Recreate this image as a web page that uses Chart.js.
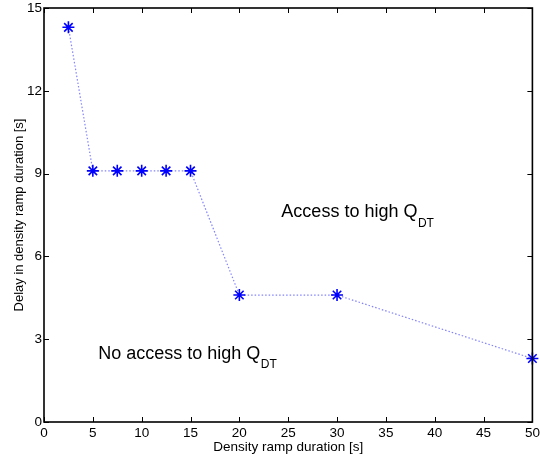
<!DOCTYPE html>
<html>
<head>
<meta charset="utf-8">
<script src="https://cdn.jsdelivr.net/npm/chart.js@4"></script>
<style>
  html, body { margin: 0; padding: 0; background: #fff; }
  #wrap { width: 540px; height: 457px; }
</style>
</head>
<body>
<div id="wrap"><canvas id="delay_chart"></canvas></div>
<script>
/*_____________________DATA____________________*/

const rampDuration = [2.5, 5, 7.5, 10, 12.5, 15, 20, 30, 50];
const rampDelay = [14.3, 9.1, 9.1, 9.1, 9.1, 9.1, 4.6, 4.6, 2.3];

const xTickValues = [0, 5, 10, 15, 20, 25, 30, 35, 40, 45, 50];
const yTickValues = [0, 3, 6, 9, 12, 15];

// region captions, placed in data units (x, baseline y)
const regionText = ['Access to high Q', 'No access to high Q'];
const regionSub = ['DT', 'DT'];
const regionX = [24.3, 5.55];
const regionY = [7.42, 2.3];

const FONT = "'Liberation Sans', Arial, Helvetica, sans-serif";

/*_____________________BOX + INSIDE TICKS____________________*/

const boxTicks = {
  id: 'boxTicks',
  afterDatasetsDraw(chart) {
    const {ctx, chartArea: a, scales: {x, y}} = chart;
    const len = 5;
    ctx.save();
    ctx.strokeStyle = '#000';
    ctx.lineWidth = 1;
    ctx.beginPath();
    xTickValues.forEach(v => {
      const px = Math.round(x.getPixelForValue(v)) + 0.5;
      ctx.moveTo(px, a.bottom); ctx.lineTo(px, a.bottom - len);
      ctx.moveTo(px, a.top); ctx.lineTo(px, a.top + len);
    });
    yTickValues.forEach(v => {
      const py = Math.round(y.getPixelForValue(v)) + 0.5;
      ctx.moveTo(a.left, py); ctx.lineTo(a.left + len, py);
      ctx.moveTo(a.right, py); ctx.lineTo(a.right - len, py);
    });
    ctx.stroke();
    ctx.lineWidth = 1.6;
    ctx.strokeRect(a.left, a.top, a.right - a.left, a.bottom - a.top);

    // captions with subscript
    ctx.fillStyle = '#000';
    ctx.textBaseline = 'alphabetic';
    ctx.textAlign = 'left';
    regionText.forEach((t, i) => {
      const px = x.getPixelForValue(regionX[i]);
      const py = y.getPixelForValue(regionY[i]);
      ctx.font = '18px ' + FONT;
      ctx.fillText(t, px, py);
      const w = ctx.measureText(t).width;
      ctx.font = '12px ' + FONT;
      ctx.fillText(regionSub[i], px + w + 0.5, py + 9.5);
    });
    ctx.restore();
  }
};

/*_____________________CHART____________________*/

const delay_chart = document.getElementById('delay_chart');
new Chart(delay_chart, {
  type: 'scatter',
  data: {
    datasets: [{
      label: 'Delay',
      data: rampDuration.map((d, i) => ({x: d, y: rampDelay[i]})),
      showLine: true,
      borderColor: 'rgba(90, 90, 255, 0.75)',
      borderWidth: 1.2,
      borderDash: [1.5, 2],
      pointStyle: 'star',
      pointRadius: 6,
      pointBorderWidth: 1.6,
      pointBorderColor: '#0000ff',
      pointBackgroundColor: '#0000ff',
      clip: false
    }]
  },
  options: {
    responsive: true,
    maintainAspectRatio: false,
    animation: false,
    events: [],
    layout: {padding: {top: 8, right: 5, left: 0, bottom: 0}},
    plugins: {
      legend: {display: false},
      tooltip: {enabled: false}
    },
    scales: {
      x: {
        type: 'linear',
        min: 0, max: 50,
        afterFit: s => { s.height = 35; s.paddingRight = 0; s.paddingLeft = 0; },
        afterBuildTicks: s => { s.ticks = xTickValues.map(v => ({value: v})); },
        grid: {display: false, drawTicks: false},
        border: {display: false},
        ticks: {
          color: '#000', padding: 3, maxRotation: 0,
          font: {family: FONT, size: 13.5}
        },
        title: {
          display: true, text: 'Density ramp duration [s]', color: '#000',
          font: {family: FONT, size: 13.5}, padding: {top: 0, bottom: 2}
        }
      },
      y: {
        type: 'linear',
        min: 0, max: 15,
        afterFit: s => { s.width = 44; s.paddingTop = 0; s.paddingBottom = 0; },
        afterBuildTicks: s => { s.ticks = yTickValues.map(v => ({value: v})); },
        grid: {display: false, drawTicks: false},
        border: {display: false},
        ticks: {
          color: '#000', padding: 2,
          font: {family: FONT, size: 13.5}
        },
        title: {
          display: true, text: 'Delay in density ramp duration [s]', color: '#000',
          font: {family: FONT, size: 13}, padding: {top: 12, bottom: 0}
        }
      }
    }
  },
  plugins: [boxTicks]
});
</script>
</body>
</html>
